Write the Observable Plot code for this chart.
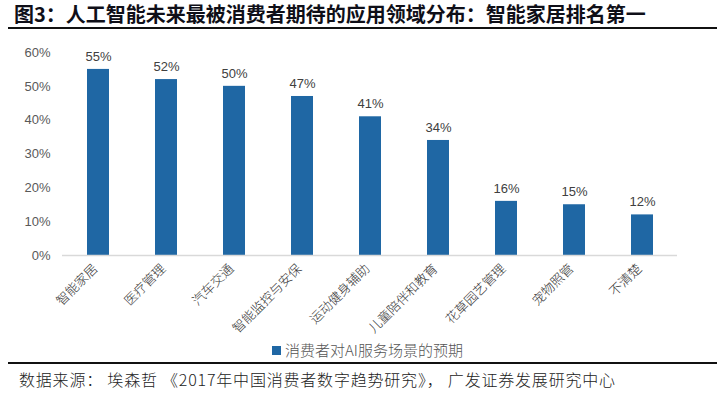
<!DOCTYPE html>
<html>
<head>
<meta charset="utf-8">
<script src="https://cdn.jsdelivr.net/npm/d3@7"></script>
<script src="https://cdn.jsdelivr.net/npm/@observablehq/plot@0.6"></script>
<style>
  body { margin: 0; background: #fff; }
  #wrap { position: relative; width: 725px; height: 393px; overflow: hidden; background: #fff; }
  #title { position: absolute; left: 14px; top: 2px; font-family: "Noto Sans CJK SC", sans-serif; font-weight: 700; font-size: 20px; line-height: 24px; color: #0f0f18; white-space: nowrap; }
  .rule { position: absolute; left: 8px; width: 709px; height: 2px; background: #111; }
  #chart { position: absolute; left: 0; top: 30px; }
  #legend { position: absolute; left: 272px; top: 340px; font-family: "Noto Sans CJK SC", sans-serif; font-weight: 300; font-size: 15px; line-height: 20px; color: #555; white-space: nowrap; }
  #legend .sw { display: inline-block; width: 9px; height: 9px; background: #1f67a4; margin-right: 4px; vertical-align: 1px; }
  #caption { position: absolute; left: 19px; top: 368px; font-family: "Noto Sans CJK SC", sans-serif; font-weight: 300; font-size: 16px; line-height: 22px; letter-spacing: 0.8px; color: #222; white-space: pre; }
</style>
</head>
<body>
<div id="wrap">
  <div id="title"></div>
  <div class="rule" style="top:27px"></div>
  <div id="chart"></div>
  <div id="legend"><span class="sw"></span><span id="legendText"></span></div>
  <div class="rule" style="top:362px;height:1.5px"></div>
  <div id="caption"></div>
</div>
<script>
const titleText = "图3：人工智能未来最被消费者期待的应用领域分布：智能家居排名第一";
const seriesName = "消费者对AI服务场景的预期";
const captionText = "数据来源： 埃森哲 《2017年中国消费者数字趋势研究》， 广发证券发展研究中心";
const categories = ["智能家居", "医疗管理", "汽车交通", "智能监控与安保", "运动健身辅助", "儿童陪伴和教育", "花草园艺管理", "宠物照管", "不清楚"];
const values = [0.55, 0.52, 0.50, 0.47, 0.41, 0.34, 0.16, 0.15, 0.12];
const yTicks = [0, 0.1, 0.2, 0.3, 0.4, 0.5, 0.6];

document.getElementById("title").textContent = titleText;
document.getElementById("legendText").textContent = seriesName;
document.getElementById("caption").textContent = captionText;

const data = categories.map((c, i) => ({cat: c, value: values[i]}));
const blue = "#1f67a4";
const fmt = d3.format(".0%");

const chart = Plot.plot({
  width: 725,
  height: 315,
  marginTop: 22,
  marginBottom: 90,
  marginLeft: 62,
  marginRight: 48,
  style: {fontFamily: "Liberation Sans, Arial, sans-serif", background: "transparent"},
  x: {domain: categories, paddingInner: 0.68, paddingOuter: 0.34, label: null},
  y: {domain: [0, 0.6], label: null},
  marks: [
    Plot.axisY({ticks: yTicks, tickFormat: fmt, tickSize: 0, tickPadding: 12, fontSize: 13, fill: "#595959", label: null}),
    Plot.axisX({tickSize: 0, tickPadding: 11, dx: -3, tickRotate: -45, fontSize: 13, fill: "#333", fontFamily: "Noto Sans CJK SC, sans-serif", fontWeight: 300, label: null}),
    Plot.barY(data, {x: "cat", y: "value", fill: blue}),
    Plot.ruleY([0], {stroke: "#d9d9d9", strokeWidth: 1.5}),
    Plot.text(data, {x: "cat", y: "value", text: d => fmt(d.value), dy: -13, fontSize: 13, fill: "#404040"})
  ]
});
document.getElementById("chart").appendChild(chart);
</script>
</body>
</html>
